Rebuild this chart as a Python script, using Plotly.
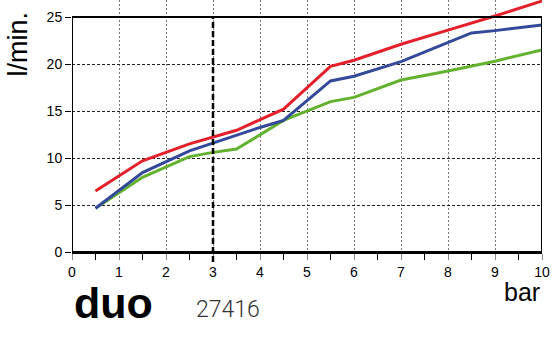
import plotly.graph_objects as go

# Data (pressure in bar -> flow in l/min)
red_x = [0.5, 1.5, 2.5, 3.5, 4.5, 5.5, 6, 7, 8, 9, 10]
red_y = [6.5, 9.7, 11.5, 12.95, 15.2, 19.75, 20.4, 22.1, 23.6, 25.1, 26.7]

blue_x = [0.5, 1.5, 2.5, 3.5, 4, 4.5, 5.5, 6, 7, 8.5, 9, 10]
blue_y = [4.65, 8.45, 10.75, 12.45, 13.25, 14.0, 18.2, 18.7, 20.25, 23.3, 23.55, 24.15]

green_x = [0.5, 1.5, 2.5, 3, 3.5, 4.5, 5.5, 6, 7, 8, 9, 10]
green_y = [4.65, 7.95, 10.15, 10.6, 10.95, 14.0, 16.0, 16.45, 18.3, 19.25, 20.3, 21.5]

x_ticks = list(range(0, 11))
y_ticks = [0, 5, 10, 15, 20, 25]
marker_x = 3

W, H = 556, 343
L, R_ = 72, 542
T_plot, B_plot = 0, 252
FONT = "Liberation Sans, Arial, Helvetica, sans-serif"


def px(xp):
    return (xp - L) / (R_ - L)


def py(yp):
    return (B_plot - yp) / (B_plot - T_plot)


fig = go.Figure()
for xs, ys, col in [(green_x, green_y, "#63b22f"),
                    (blue_x, blue_y, "#34499a"),
                    (red_x, red_y, "#e3202b")]:
    fig.add_trace(go.Scatter(x=xs, y=ys, mode="lines",
                             line=dict(color=col, width=3),
                             hoverinfo="skip", showlegend=False))

fig.update_layout(
    width=W, height=H,
    margin=dict(l=L, r=W - R_, t=T_plot, b=H - B_plot, pad=0),
    paper_bgcolor="white", plot_bgcolor="white",
    showlegend=False,
    font=dict(family=FONT, size=14, color="black"),
)

fig.update_xaxes(
    range=[0, 10], tickvals=x_ticks, ticktext=[str(v) for v in x_ticks],
    showgrid=True, gridcolor="#777", griddash="2px,2px", gridwidth=1,
    ticks="outside", ticklen=6, tickcolor="#888", tickwidth=1,
    minor=dict(dtick=0.5, ticks="outside", ticklen=6, tickcolor="black",
               tickwidth=1, showgrid=False),
    showline=True, linecolor="black", linewidth=2,
    zeroline=False, tickfont=dict(size=14, color="black"),
)
fig.update_yaxes(
    range=[0, (B_plot - T_plot) / 9.4], tickvals=y_ticks,
    showgrid=True, gridcolor="#222", griddash="3px,2px", gridwidth=1,
    ticks="outside", ticklen=6, tickcolor="black", tickwidth=1,
    showline=False, zeroline=False, tickfont=dict(size=14, color="black"),
)

# frame of the chart area (0..10 x 0..25)
fig.add_shape(type="rect", xref="x", yref="y", x0=0, x1=10, y0=0, y1=25,
              line=dict(color="black", width=2), fillcolor="rgba(0,0,0,0)",
              layer="above")
# dashed marker at 3 bar
fig.add_shape(type="line", xref="x", yref="paper", x0=marker_x, x1=marker_x,
              y0=py(262), y1=py(17),
              line=dict(color="black", width=2.5, dash="6px,3px"), layer="above")

fig.add_annotation(text="l/min.", xref="paper", yref="paper",
                   x=px(17.5), y=py(44), xanchor="center", yanchor="middle",
                   textangle=-90, showarrow=False,
                   font=dict(family=FONT, size=27, color="black"))
fig.add_annotation(text="bar", xref="paper", yref="paper",
                   x=px(522), y=py(292), xanchor="center", yanchor="middle",
                   showarrow=False, font=dict(family=FONT, size=25, color="black"))
fig.add_annotation(text="<b>duo</b>", xref="paper", yref="paper",
                   x=px(113), y=py(303), xanchor="center", yanchor="middle",
                   showarrow=False, font=dict(family=FONT, size=43, color="black"))
fig.add_annotation(text="27416", xref="paper", yref="paper",
                   x=px(227.5), y=py(309), xanchor="center", yanchor="middle",
                   showarrow=False,
                   font=dict(family="Roboto, sans-serif", size=23, color="#333",
                             weight=300))

fig.write_html("out.html")
